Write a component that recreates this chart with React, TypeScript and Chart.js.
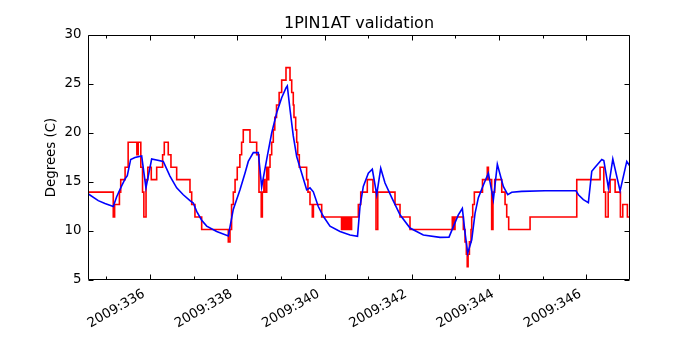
import React, { useEffect, useRef } from "react";
import { Chart, registerables } from "chart.js";

Chart.register(...registerables);

// ---- data (day-of-year 2009) ----
const chartTitle = "1PIN1AT validation";
const yAxisLabel = "Degrees (C)";
const yearPrefix = "2009:";

const xMajorTicks = [336, 338, 340, 342, 344, 346];
const xMinorTicks = [335, 337, 339, 341, 343, 345, 347];
const yMajorTicks = [5, 10, 15, 20, 25, 30];

// Telemetry (red, step plot)
const redDays = [
  334.58, 335.159, 335.19, 335.3, 335.33, 335.43, 335.5, 335.7, 335.73, 335.79,
  335.83, 335.86, 335.91, 335.95, 336.03, 336.154, 336.29, 336.328, 336.419, 336.481,
  336.612, 336.917, 336.956, 337.031, 337.185, 337.795, 337.834, 337.87, 337.91, 337.95,
  338.0, 338.06, 338.1, 338.138, 338.292, 338.445, 338.498, 338.55, 338.575, 338.61,
  338.636, 338.675, 338.7, 338.72, 338.751, 338.789, 338.826, 338.86, 338.9, 338.96,
  339.018, 339.117, 339.209, 339.248, 339.284, 339.3, 339.339, 339.362, 339.385, 339.422,
  339.59, 339.62, 339.667, 339.72, 339.745, 339.935,
  340.39, 340.4, 340.41, 340.42, 340.43, 340.44, 340.45, 340.46, 340.47, 340.48,
  340.49, 340.5, 340.51, 340.52, 340.53, 340.54, 340.55, 340.56, 340.57, 340.58,
  340.59, 340.6, 340.61, 340.62,
  340.775, 340.83, 340.98, 341.11, 341.18, 341.22, 341.615, 341.73, 341.959, 342.928,
  342.96, 342.99, 343.181, 343.22, 343.25, 343.27, 343.29, 343.32, 343.357, 343.373,
  343.396, 343.433, 343.62, 343.73, 343.755, 343.83, 343.86, 343.9, 344.061, 344.137,
  344.175, 344.22, 344.71, 345.78, 346.314, 346.4, 346.44, 346.5, 346.544, 346.659,
  346.78, 346.834, 346.94, 347.0,
];
const redTemps = [
  13.97, 11.43, 12.7, 13.97, 15.24, 16.51, 19.05, 17.78, 19.05, 16.51,
  13.97, 11.43, 15.24, 16.51, 15.24, 16.51, 17.78, 19.05, 17.78, 16.51,
  15.24, 13.97, 12.7, 11.43, 10.16, 8.89, 10.16, 12.7, 13.97, 15.24,
  16.51, 17.78, 19.05, 20.32, 19.05, 17.78, 13.97, 11.43, 13.97, 15.24,
  13.97, 16.51, 15.24, 16.51, 17.78, 19.05, 20.32, 21.59, 22.86, 24.13,
  25.4, 26.67, 25.4, 24.13, 22.86, 21.59, 20.32, 19.05, 17.78, 16.51,
  15.24, 13.97, 12.7, 11.43, 12.7, 11.43,
  10.16, 11.43, 10.16, 11.43, 10.16, 11.43, 10.16, 11.43, 10.16, 11.43,
  10.16, 11.43, 10.16, 11.43, 10.16, 11.43, 10.16, 11.43, 10.16, 11.43,
  10.16, 11.43, 10.16, 11.43,
  12.7, 13.97, 15.24, 13.97, 10.16, 13.97, 12.7, 11.43, 10.16, 11.43,
  10.16, 11.43, 10.16, 8.89, 7.62, 6.35, 7.62, 8.89, 10.16, 11.43,
  12.7, 13.97, 15.24, 16.51, 15.24, 10.16, 13.97, 15.24, 13.97, 12.7,
  11.43, 10.16, 11.43, 15.24, 16.51, 13.97, 11.43, 13.97, 15.24, 13.97,
  11.43, 12.7, 11.43, 11.43,
];

// Model (blue)
const blueDays = [
  334.58, 334.815, 334.969, 335.159, 335.237, 335.351, 335.427, 335.48, 335.558, 335.656,
  335.81, 335.908, 336.039, 336.305, 336.458, 336.612, 336.763, 336.917, 336.992, 337.07,
  337.185, 337.3, 337.529, 337.795, 337.909, 338.063, 338.177, 338.253, 338.368, 338.482,
  338.56, 338.675, 338.789, 338.904, 339.018, 339.117, 339.147, 339.209, 339.284, 339.362,
  339.477, 339.591, 339.667, 339.743, 339.857, 339.972, 340.125, 340.355, 340.584, 340.756,
  340.813, 340.889, 341.004, 341.095, 341.196, 341.288, 341.386, 341.54, 341.73, 341.959,
  342.264, 342.647, 342.853, 342.952, 343.066, 343.158, 343.22, 343.282, 343.373, 343.449,
  343.525, 343.64, 343.754, 343.869, 343.96, 344.097, 344.198, 344.29, 344.519, 345.053,
  345.763, 345.817, 345.931, 346.046, 346.124, 346.2, 346.353, 346.4, 346.505, 346.606,
  346.773, 346.926, 347.0,
];
const blueTemps = [
  13.8, 13.1, 12.8, 12.5, 13.5, 14.6, 15.3, 15.65, 17.3, 17.5,
  17.65, 14.4, 17.35, 17.1, 15.6, 14.4, 13.7, 13.1, 12.85, 12.0,
  11.1, 10.5, 9.95, 9.5, 12.2, 14.2, 15.9, 17.1, 18.0, 18.0,
  14.5, 17.3, 20.0, 22.06, 23.6, 24.6, 24.8, 22.4, 19.7, 17.6,
  15.9, 14.2, 14.4, 14.0, 12.5, 11.5, 10.5, 9.95, 9.6, 9.45,
  12.5, 14.55, 15.9, 16.3, 13.7, 16.4, 14.9, 13.4, 11.65, 10.3,
  9.6, 9.35, 9.37, 10.45, 11.65, 12.3, 9.8, 7.73, 9.1, 11.8,
  13.4, 14.7, 15.9, 13.2, 16.8, 14.55, 13.7, 13.95, 14.04, 14.1,
  14.1, 13.7, 13.2, 12.9, 16.1, 16.5, 17.3, 17.2, 14.4, 17.35,
  14.1, 17.1, 16.6,
];

const FONT = "'DejaVu Sans', sans-serif";

const framePlugin = {
  id: "mplFrame",
  afterDatasetsDraw(chart: any) {
    const { ctx, chartArea, scales } = chart;
    const { left, right, top, bottom } = chartArea;
    const x = scales.x;
    const y = scales.y;
    ctx.save();
    ctx.strokeStyle = "#000";
    ctx.lineWidth = 1;
    const L = Math.round(left) + 0.5;
    const R = Math.round(right) - 0.5;
    const T = Math.round(top) + 0.5;
    const B = Math.round(bottom) - 0.5;
    ctx.beginPath();
    ctx.rect(L, T, R - L, B - T);
    ctx.stroke();
    ctx.beginPath();
    const tickX = (v: number, len: number) => {
      const px = Math.round(x.getPixelForValue(v)) + 0.5;
      if (px < L || px > R) return;
      ctx.moveTo(px, B);
      ctx.lineTo(px, B - len);
      ctx.moveTo(px, T);
      ctx.lineTo(px, T + len);
    };
    xMajorTicks.forEach((v) => tickX(v, 5));
    xMinorTicks.forEach((v) => tickX(v, 3));
    yMajorTicks.forEach((v) => {
      const py = Math.round(y.getPixelForValue(v)) + 0.5;
      ctx.moveTo(L, py);
      ctx.lineTo(L + 5, py);
      ctx.moveTo(R, py);
      ctx.lineTo(R - 5, py);
    });
    ctx.stroke();
    ctx.restore();
  },
};

export default function App() {
  const canvasRef = useRef<HTMLCanvasElement | null>(null);

  useEffect(() => {
    const canvas = canvasRef.current;
    if (!canvas) return;
    const redData = redDays.map((d, i) => ({ x: d, y: redTemps[i] }));
    const blueData = blueDays.map((d, i) => ({ x: d, y: blueTemps[i] }));

    const chart = new Chart(canvas, {
      type: "line",
      data: {
        datasets: [
          {
            label: "telemetry",
            data: redData,
            borderColor: "rgb(255,0,0)",
            borderWidth: 1.6,
            pointRadius: 0,
            stepped: true,
            fill: false,
            order: 1,
          },
          {
            label: "model",
            data: blueData,
            borderColor: "rgb(0,0,255)",
            borderWidth: 1.6,
            pointRadius: 0,
            tension: 0,
            fill: false,
            order: 0,
          },
        ],
      },
      options: {
        responsive: false,
        animation: false,
        devicePixelRatio: 1,
        layout: { padding: { left: 0, right: 70, top: 0, bottom: 0 } },
        plugins: {
          legend: { display: false },
          tooltip: { enabled: false },
          title: {
            display: true,
            text: chartTitle,
            fullSize: false,
            color: "#000",
            font: { family: FONT, size: 16, weight: "normal", lineHeight: 1.2 },
            padding: { top: 14, bottom: 1.8 },
          },
        },
        scales: {
          x: {
            type: "linear",
            min: 334.58,
            max: 347.0,
            grid: { display: false, drawTicks: false },
            border: { display: false },
            afterBuildTicks: (scale: any) => {
              scale.ticks = xMajorTicks.map((v) => ({ value: v }));
            },
            afterFit: (scale: any) => {
              scale.height = 70;
            },
            ticks: {
              autoSkip: false,
              minRotation: 30,
              maxRotation: 30,
              padding: 6,
              labelOffset: -6,
              color: "#000",
              font: { family: FONT, size: 13.33, lineHeight: 1.2 },
              callback: (v: any) => yearPrefix + v,
            },
          },
          y: {
            type: "linear",
            min: 5,
            max: 30,
            grid: { display: false, drawTicks: false },
            border: { display: false },
            afterBuildTicks: (scale: any) => {
              scale.ticks = yMajorTicks.map((v) => ({ value: v }));
            },
            afterFit: (scale: any) => {
              scale.width = 88;
            },
            ticks: {
              padding: 6.5,
              color: "#000",
              font: { family: FONT, size: 13.33, lineHeight: 1.2 },
            },
            title: {
              display: true,
              text: yAxisLabel,
              color: "#000",
              font: { family: FONT, size: 13.33, lineHeight: 1.2 },
              padding: { top: 43.7, bottom: 0 },
            },
          },
        },
      },
      plugins: [framePlugin],
    });
    return () => chart.destroy();
  }, []);

  return (
    <div style={{ position: "absolute", left: 0, top: 0, width: 700, height: 350, background: "#fff" }}>
      <canvas ref={canvasRef} width={700} height={350} style={{ display: "block" }} />
    </div>
  );
}
